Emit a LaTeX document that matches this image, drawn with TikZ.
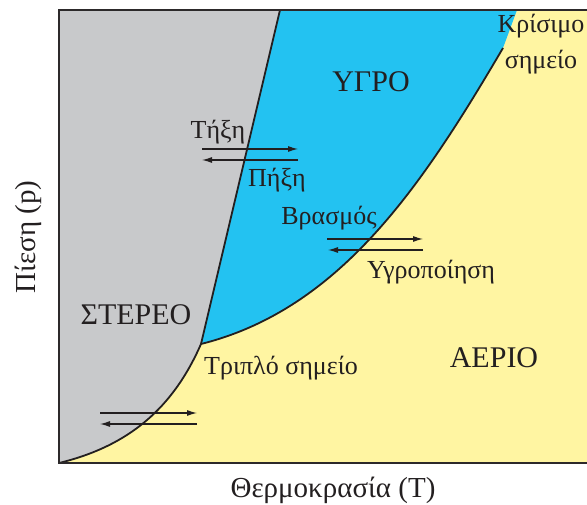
\documentclass[tikz,border=0pt]{standalone}
\usepackage{fontspec}
\setmainfont{Liberation Serif}
\newfontfamily\grserif[Script=Greek]{Liberation Serif}
\usepackage{tikz}
\usetikzlibrary{arrows.meta, positioning}
\definecolor{SolidGray}{RGB}{200,201,203}
\definecolor{LiquidBlue}{RGB}{35,194,241}
\definecolor{GasYellow}{RGB}{255,245,162}
\definecolor{InkBlack}{RGB}{35,31,32}
\tikzset{
  >=latex,
  % Regioni e curve
  phase line/.style={line width=1.8pt,InkBlack},
  frame line/.style={line width=2.6pt,InkBlack!90!gray},
  % Frecce di transizione
  trans arrow/.style={-{Latex[length=10pt,width=6pt]},line width=1.1pt,InkBlack},
  % Testi
  phase label/.style={font=\grserif\fontsize{30}{32}\selectfont,text=InkBlack,inner sep=0},
  small label/.style={font=\grserif\fontsize{26}{36}\selectfont,text=InkBlack,inner sep=0},
  axis label/.style={font=\grserif\fontsize{29}{31}\selectfont,text=InkBlack,inner sep=0},
}

\begin{document}
\begin{tikzpicture}[x=1pt,y=1pt]
    \useasboundingbox (0,0) rectangle (587,504);
    \clip (0,0) rectangle (587,504);
    % punti principali
    \coordinate (O) at (59,41);
    \coordinate (tripla) at (201,160);
    \coordinate (critico) at (503,456);
    \coordinate (fusione top) at (280,494);
    \coordinate (vapore top) at (517,494);
    % gas
    \fill[GasYellow] (O) rectangle (600,494);
    % solido
    \fill[SolidGray] (O) .. controls (129,58) and (173,96) .. (tripla)
      -- (fusione top) -- (59,494) -- cycle;
    % liquido
    \fill[LiquidBlue] (tripla) .. controls (341,195) and (423,320) .. (critico)
      -- (vapore top) -- (fusione top) -- cycle;
    % curve di equilibrio
    \draw[phase line] (O) .. controls (129,58) and (173,96) .. (tripla);
    \draw[phase line] (tripla) -- (fusione top);
    \draw[phase line] (tripla) .. controls (341,195) and (423,320) .. (critico);
    % cornice
    \draw[frame line] (600,494) -- (59,494) -- (O) -- (600,41);
    % frecce
    \coordinate (tA1) at (202,355); \coordinate (tA2) at (298,355);
    \coordinate (tB1) at (298,344); \coordinate (tB2) at (202,344);
    \draw[trans arrow] (tA1) -- (tA2);
    \draw[trans arrow] (tB1) -- (tB2);
    \coordinate (bA1) at (327,265); \coordinate (bA2) at (423,265);
    \coordinate (bB1) at (423,254); \coordinate (bB2) at (328,254);
    \draw[trans arrow] (bA1) -- (bA2);
    \draw[trans arrow] (bB1) -- (bB2);
    \coordinate (sA1) at (100,91); \coordinate (sA2) at (197,91);
    \coordinate (sB1) at (197,80); \coordinate (sB2) at (100,80);
    \draw[trans arrow] (sA1) -- (sA2);
    \draw[trans arrow] (sB1) -- (sB2);
    % etichette
    \node[phase label] (solido) at (136,189) {ΣΤΕΡΕΟ};
    \node[phase label] (liquido) at (371,422) {ΥΓΡΟ};
    \node[phase label] (gas) at (494,146) {ΑΕΡΙΟ};
    \node[small label] (tixi) at (218,372) {Τήξη};
    \node[small label] (pixi) at (277,324) {Πήξη};
    \node[small label] (brasmos) at (329,286) {Βρασμός};
    \node[small label] (ygrop) at (431,232) {Υγροποίηση};
    \node[small label] (triplo) at (281,136) {Τριπλό σημείο};
    \node[small label,align=center] (krisimo) at (541,460)
      {Κρίσιμο\\σημείο};
    \node[axis label,rotate=90] (piesi) at (28,267) {Πίεση (p)};
    \node[axis label] (thermo) at (333,14) {Θερμοκρασία (T)};
\end{tikzpicture}
\end{document}
